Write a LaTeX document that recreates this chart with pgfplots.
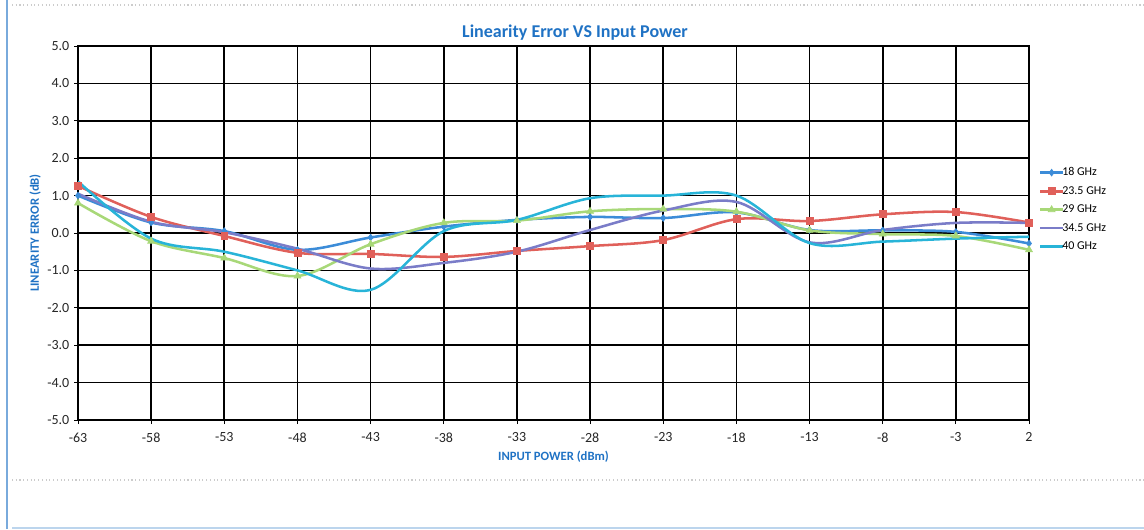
\documentclass[border=0pt]{standalone}
\usepackage{fontspec}
\setmainfont{Carlito}
\usepackage{pgfplots}
\pgfplotsset{compat=1.18}
\definecolor{cBlue}{HTML}{3C8CD8}
\definecolor{cRed}{HTML}{E0605A}
\definecolor{cGreen}{HTML}{A8D878}
\definecolor{cPurple}{HTML}{7A7CC8}
\definecolor{cCyan}{HTML}{28B4D8}
\definecolor{cTitle}{HTML}{1F72C4}
\begin{document}
\begin{tikzpicture}
\path[use as bounding box] (0pt,0pt) rectangle (858pt,396.75pt);
\draw[cTitle!60,line width=1.2pt] (5.25pt,0pt) -- (5.25pt,396.75pt);
\draw[gray!40,dotted,line width=0.8pt] (9pt,393pt) -- (858pt,393pt);
\draw[gray!40,dotted,line width=0.8pt] (9pt,36.75pt) -- (858pt,36.75pt);
\draw[cTitle!30,line width=0.8pt] (9pt,0.75pt) -- (858pt,0.75pt);
\node[font=\bfseries\fontsize{13.5}{15}\selectfont,text=cTitle] at (431.25pt,372pt) {Linearity Error VS Input Power};
\begin{axis}[
  at={(58.5pt,81.75pt)}, anchor=south west,
  scale only axis, width=713.25pt, height=280.5pt,
  xmin=-63, xmax=2, ymin=-5, ymax=5,
  xtick={-63,-58,...,2}, ytick={-5,-4,...,5},
  grid=major, major grid style={black,line width=1.3pt},
  axis line style={black,line width=1pt},
  tick style={black,line width=0.6pt},
  xtick pos=bottom, ytick pos=left, tick align=outside,
  major tick length=3pt,
  /pgf/number format/assume math mode=true,
  yticklabel style={/pgf/number format/.cd,fixed,fixed zerofill,precision=1},
  ticklabel style={font=\fontsize{10.5}{12}\selectfont, text=black!85},
  xticklabel style={yshift=-3pt},
  xlabel={INPUT POWER (dBm)},
  ylabel={LINEARITY ERROR (dB)},
  label style={font=\bfseries\fontsize{9.5}{11}\selectfont, text=cTitle},
  xlabel style={yshift=0pt},
  ylabel style={yshift=-2pt},
  legend style={at={(1.006,0.69)}, anchor=north west, draw=none, fill=none,
    font=\fontsize{9}{10}\selectfont, row sep=2.5pt, nodes={inner xsep=1pt},
    /tikz/every odd column/.append style={column sep=-2.5pt}},
  legend image post style={line width=1.9pt},
  legend cell align=left,
  every axis plot/.append style={line width=1.9pt, smooth, tension=0.55},
]
\addplot[cBlue, mark=diamond*, mark size=2.5pt, mark options={solid,line width=0.5pt}] coordinates {
(-63,1.0) (-58,0.28) (-53,0.05) (-48,-0.45) (-43,-0.12) (-38,0.17) (-33,0.35) (-28,0.43) (-23,0.40) (-18,0.55) (-13,0.08) (-8,0.07) (-3,0.03) (2,-0.28)};
\addlegendentry{18 GHz}
\addplot[cRed, mark=square*, mark size=2.6pt, mark options={solid,line width=0.5pt}] coordinates {
(-63,1.26) (-58,0.43) (-53,-0.08) (-48,-0.53) (-43,-0.56) (-38,-0.64) (-33,-0.48) (-28,-0.35) (-23,-0.19) (-18,0.37) (-13,0.32) (-8,0.50) (-3,0.56) (2,0.28)};
\addlegendentry{23.5 GHz}
\addplot[cGreen, mark=triangle*, mark size=3pt, mark options={solid,line width=0.5pt}] coordinates {
(-63,0.8) (-58,-0.22) (-53,-0.67) (-48,-1.15) (-43,-0.3) (-38,0.27) (-33,0.33) (-28,0.58) (-23,0.64) (-18,0.57) (-13,0.07) (-8,-0.03) (-3,-0.08) (2,-0.45)};
\addlegendentry{29 GHz}
\addplot[cPurple, no markers] coordinates {
(-63,1.05) (-58,0.3) (-53,0.02) (-48,-0.42) (-43,-0.95) (-38,-0.8) (-33,-0.5) (-28,0.08) (-23,0.6) (-18,0.83) (-13,-0.25) (-8,0.08) (-3,0.27) (2,0.27)};
\addlegendentry{34.5 GHz}
\addplot[cCyan, no markers] coordinates {
(-63,1.38) (-58,-0.15) (-53,-0.5) (-48,-1.0) (-43,-1.52) (-38,0.05) (-33,0.35) (-28,0.93) (-23,1.0) (-18,1.0) (-13,-0.27) (-8,-0.23) (-3,-0.15) (2,-0.1)};
\addlegendentry{40 GHz}
\end{axis}
\end{tikzpicture}
\end{document}
